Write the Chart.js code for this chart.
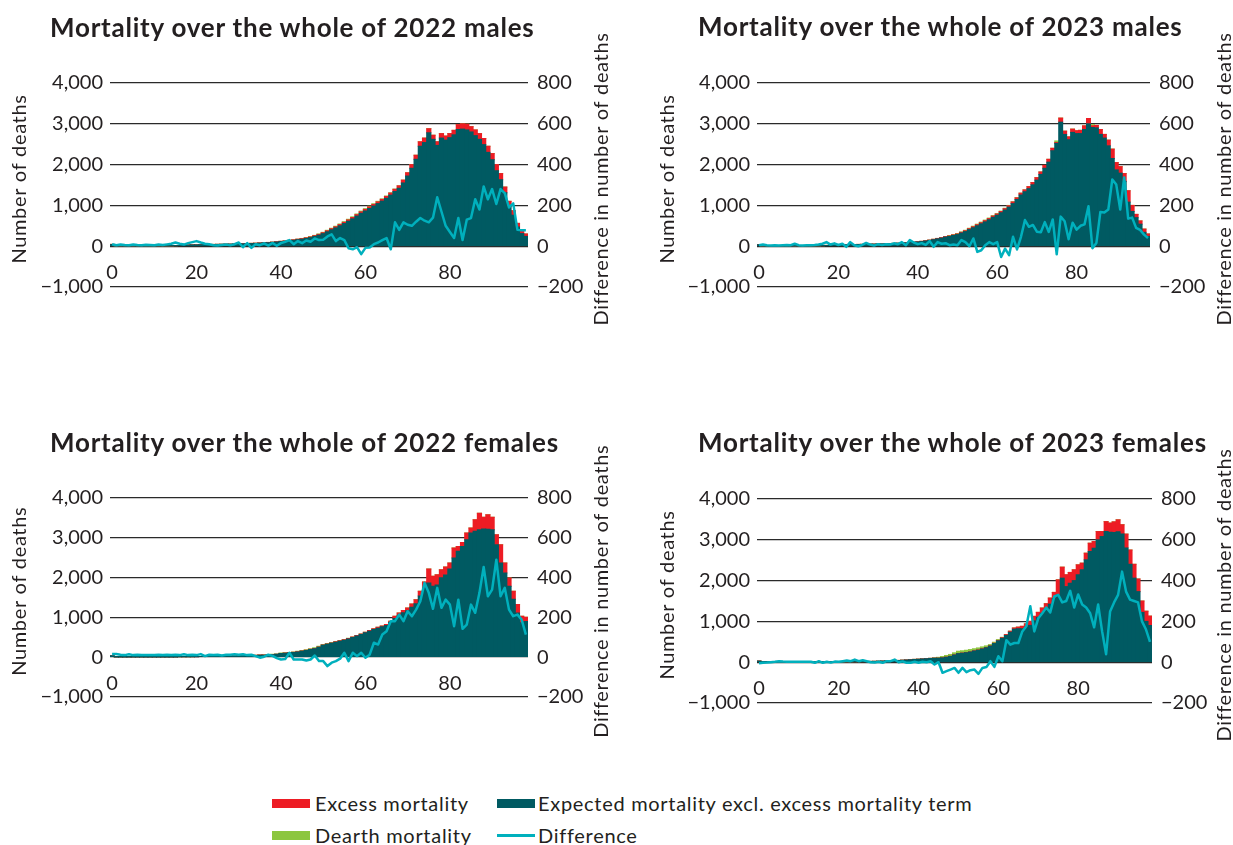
<!DOCTYPE html>
<html>
<head>
<meta charset="utf-8">
<script src="https://cdn.jsdelivr.net/npm/chart.js@4.4.1/dist/chart.umd.min.js"></script>
<style>
  body { margin: 0; background: #fff; width: 1233px; height: 845px; position: relative; overflow: hidden;
         font-family: Lato, sans-serif; color: #231f20; }
  .title { position: absolute; font-weight: 700; font-size: 26px; line-height: 30px; letter-spacing: 0.77px; white-space: nowrap; }
  .panel { position: absolute; }
  .sw { position: absolute; width: 38px; height: 9px; }
  .lt { position: absolute; font-size: 20px; line-height: 24px; letter-spacing: 0.7px; white-space: nowrap; }
</style>
</head>
<body>

<div class="panel" style="left:0;top:20px;width:620px;height:320px"><canvas id="c1"></canvas></div>
<div class="panel" style="left:620px;top:20px;width:613px;height:320px"><canvas id="c2"></canvas></div>
<div class="panel" style="left:0;top:430px;width:620px;height:320px"><canvas id="c3"></canvas></div>
<div class="panel" style="left:620px;top:430px;width:613px;height:320px"><canvas id="c4"></canvas></div>

<div class="title" style="left:50px;top:12px">Mortality over the whole of 2022 males</div>
<div class="title" style="left:698px;top:11px">Mortality over the whole of 2023 males</div>
<div class="title" style="left:50px;top:427px">Mortality over the whole of 2022 females</div>
<div class="title" style="left:698px;top:427px">Mortality over the whole of 2023 females</div>

<div class="sw" style="left:272px;top:799px;background:#ed1c24"></div>
<div class="lt" style="left:315px;top:791px">Excess mortality</div>
<div class="sw" style="left:497px;top:799px;background:#005a62"></div>
<div class="lt" style="left:538px;top:791px">Expected mortality excl. excess mortality term</div>
<div class="sw" style="left:272px;top:831px;background:#8cc63f"></div>
<div class="lt" style="left:315px;top:823px">Dearth mortality</div>
<div class="sw" style="left:497px;top:834px;height:3px;background:#00b0bd"></div>
<div class="lt" style="left:538px;top:823px">Difference</div>

<script>
const AGES = [
  0, 1, 2, 3, 4, 5, 6, 7, 8, 9, 10, 11, 12, 13, 14, 15, 16, 17, 18, 19,
  20, 21, 22, 23, 24, 25, 26, 27, 28, 29, 30, 31, 32, 33, 34, 35, 36, 37, 38, 39,
  40, 41, 42, 43, 44, 45, 46, 47, 48, 49, 50, 51, 52, 53, 54, 55, 56, 57, 58, 59,
  60, 61, 62, 63, 64, 65, 66, 67, 68, 69, 70, 71, 72, 73, 74, 75, 76, 77, 78, 79,
  80, 81, 82, 83, 84, 85, 86, 87, 88, 89, 90, 91, 92, 93, 94, 95, 96, 97, 98
];
const X_TICKS = [0, 20, 40, 60, 80];

// 2022 males
const expected2022m = [
  40, 6, 5, 4, 4, 4, 4, 4, 5, 5, 6, 6, 7, 8, 10, 14, 16, 22, 27, 31,
  33, 35, 37, 39, 42, 44, 46, 48, 49, 52, 55, 58, 62, 66, 69, 75, 81, 86, 94, 102,
  112, 120, 132, 144, 160, 171, 190, 211, 239, 270, 308, 354, 402, 448, 500, 555, 612, 670, 738, 806,
  864, 924, 985, 1044, 1104, 1174, 1252, 1340, 1420, 1550, 1720, 1910, 2130, 2450, 2540, 2780, 2620, 2470, 2650, 2600,
  2660, 2730, 2860, 2870, 2850, 2800, 2710, 2620, 2490, 2300, 2120, 1850, 1630, 1310, 970, 760, 470, 310, 240
];
const excess2022m = [
  5, 0, 0, 0, 0, 0, 0, 0, 0, 0, 0, 0, 0, 0, 0, 0, 2, 2, 3, 3,
  3, 3, 3, 3, 2, 2, 2, 2, 3, 3, 3, 4, 4, 4, 5, 5, 5, 6, 6, 8,
  8, 10, 10, 12, 12, 14, 15, 16, 18, 20, 22, 24, 26, 28, 30, 30, 32, 34, 34, 36,
  38, 40, 40, 42, 44, 46, 50, 55, 60, 70, 80, 90, 100, 110, 110, 100, 100, 90, 110, 100,
  100, 110, 120, 130, 140, 130, 140, 140, 150, 150, 150, 150, 150, 140, 130, 110, 90, 70, 60
];
const dearth2022m = [
  0, 0, 0, 0, 0, 0, 0, 0, 0, 0, 0, 0, 0, 0, 0, 0, 0, 0, 0, 0,
  0, 0, 0, 0, 0, 0, 0, 0, 0, 0, 0, 0, 0, 0, 0, 0, 0, 0, 0, 0,
  0, 0, 0, 0, 0, 5, 5, 8, 8, 10, 10, 12, 12, 14, 15, 15, 16, 16, 18, 18,
  18, 16, 15, 14, 12, 10, 8, 5, 0, 0, 0, 0, 0, 0, 0, 0, 0, 0, 0, 0,
  0, 0, 0, 0, 0, 0, 0, 0, 0, 0, 0, 0, 0, 0, 0, 0, 0, 0, 0
];
const difference2022m = [
  10, 5, 8, 6, 5, 8, 6, 5, 7, 6, 5, 8, 6, 9, 12, 18, 12, 8, 15, 20,
  25, 18, 12, 10, 5, 3, 6, 8, 5, 10, 18, -5, 15, -8, 10, 5, 14, 3, 16, 2,
  15, 22, 30, 10, 25, 15, 28, 22, 38, 30, 32, 48, 58, 25, 40, 30, -10, -15, -5, -39,
  -8, -6, 10, 18, 30, 40, -15, 117, 80, 117, 105, 100, 120, 138, 125, 117, 140, 240, 170, 100,
  70, 40, 138, 30, 130, 138, 230, 180, 293, 230, 280, 207, 280, 260, 190, 210, 80, 78, 78
];

// 2023 males
const expected2023m = [
  36, 5, 4, 4, 3, 3, 3, 3, 4, 4, 4, 5, 5, 6, 8, 10, 13, 18, 23, 28,
  31, 33, 35, 38, 40, 41, 43, 45, 47, 49, 52, 55, 58, 62, 66, 71, 75, 81, 87, 94,
  104, 113, 127, 142, 160, 180, 198, 223, 238, 262, 284, 322, 358, 406, 452, 501, 549, 597, 648, 708,
  758, 820, 885, 957, 1044, 1145, 1255, 1335, 1410, 1505, 1620, 1760, 1910, 2060, 2340, 2520, 3040, 2740, 2610, 2790,
  2760, 2760, 2860, 3000, 2910, 2900, 2740, 2650, 2460, 2150, 1870, 1790, 1590, 1080, 850, 700, 540, 340, 240
];
const excess2023m = [
  4, 0, 0, 0, 0, 0, 0, 0, 0, 0, 0, 0, 0, 0, 0, 0, 1, 2, 2, 2,
  2, 2, 2, 2, 2, 3, 3, 3, 3, 3, 3, 3, 4, 4, 4, 4, 5, 5, 5, 6,
  6, 7, 8, 8, 10, 10, 12, 12, 14, 15, 16, 18, 20, 22, 24, 25, 26, 28, 28, 30,
  30, 30, 35, 35, 40, 40, 45, 45, 50, 55, 60, 60, 70, 70, 60, 20, 100, 80, 70, 80,
  70, 80, 90, 130, 40, 60, 120, 90, 140, 230, 180, 160, 190, 280, 150, 80, 80, 80, 60
];
const dearth2023m = [
  0, 0, 0, 0, 0, 0, 0, 0, 0, 0, 0, 0, 0, 0, 0, 0, 0, 0, 0, 0,
  0, 0, 0, 0, 0, 0, 0, 0, 0, 0, 0, 0, 0, 0, 0, 0, 0, 0, 0, 0,
  0, 0, 0, 0, 0, 0, 0, 0, 8, 8, 10, 10, 12, 12, 14, 14, 15, 15, 14, 12,
  12, 10, 10, 8, 6, 5, 0, 0, 0, 0, 0, 0, 0, 0, 0, 40, 0, 0, 0, 0,
  0, 0, 0, 0, 30, 0, 0, 0, 0, 0, 0, 0, 0, 0, 0, 0, 0, 0, 0
];
const difference2023m = [
  5, 8, 5, 4, 5, 4, 5, 6, 5, 12, 5, 4, 5, 5, 6, 8, 12, 20, 8, 14,
  6, 12, -3, 20, 5, 0, 6, 16, 8, 3, 10, 6, 10, 8, 14, 10, 20, 5, 30, 18,
  10, 15, 6, 25, -3, 20, 12, 15, 5, 8, 5, 30, 20, 0, 38, -28, -20, 5, 20, 10,
  20, -53, -12, -44, 46, -16, 46, 128, 95, 104, 71, 68, 118, 70, 131, -40, 145, 122, 34, 115,
  81, 100, 107, 196, -10, 16, 168, 165, 180, 327, 302, 180, 337, 135, 140, 90, 80, 57, 40
];

// 2022 females
const expected2022f = [
  33, 4, 3, 3, 2, 2, 2, 2, 2, 2, 2, 3, 3, 3, 4, 5, 6, 7, 8, 9,
  11, 12, 13, 14, 15, 17, 19, 20, 23, 25, 28, 31, 34, 37, 42, 47, 48, 53, 60, 70,
  89, 97, 105, 116, 129, 148, 165, 190, 212, 250, 296, 322, 347, 372, 399, 425, 454, 493, 526, 566,
  610, 649, 690, 725, 758, 791, 870, 965, 1048, 1110, 1163, 1250, 1340, 1530, 1730, 1860, 1775, 1807, 1990, 2058,
  2208, 2483, 2650, 2775, 2942, 3108, 3152, 3192, 3208, 3207, 3192, 2817, 2357, 2108, 1775, 1450, 1108, 858, 892
];
const excess2022f = [
  2, 0, 0, 0, 0, 0, 0, 0, 0, 0, 0, 0, 0, 0, 0, 0, 0, 1, 1, 1,
  1, 1, 1, 1, 1, 1, 1, 2, 2, 2, 2, 2, 2, 3, 3, 3, 3, 4, 4, 4,
  3, 3, 3, 4, 4, 5, 5, 5, 6, 6, 8, 8, 8, 10, 10, 10, 12, 12, 14, 14,
  15, 16, 18, 20, 22, 25, 30, 60, 60, 60, 70, 80, 100, 120, 150, 350, 250, 260, 200, 200,
  150, 250, 125, 100, 166, 125, 290, 416, 300, 360, 316, 250, 460, 250, 208, 200, 209, 167, 108
];
const dearth2022f = [
  0, 0, 0, 0, 0, 0, 0, 0, 0, 0, 0, 0, 0, 0, 0, 0, 0, 0, 0, 0,
  0, 0, 0, 0, 0, 0, 0, 0, 0, 0, 0, 0, 0, 0, 0, 0, 5, 5, 6, 6,
  8, 8, 10, 10, 12, 12, 15, 15, 15, 14, 12, 10, 10, 8, 6, 5, 4, 0, 0, 0,
  0, 0, 0, 0, 0, 0, 0, 0, 0, 0, 0, 0, 0, 0, 0, 0, 0, 0, 0, 0,
  0, 0, 0, 0, 0, 0, 0, 0, 0, 0, 0, 0, 0, 0, 0, 0, 0, 0, 0
];
const difference2022f = [
  15, 15, 12, 10, 14, 10, 12, 10, 10, 10, 10, 12, 10, 12, 10, 12, 10, 14, 10, 12,
  10, 15, 5, 12, 10, 12, 8, 12, 12, 14, 12, 14, 10, 12, 5, -3, 2, 12, 6, -5,
  -12, -10, 22, -12, -12, -12, -17, -12, 8, -20, -20, -45, -28, -20, -8, 22, -20, 22, 5, 22,
  -3, 12, 72, 63, 113, 130, 180, 180, 213, 180, 230, 205, 238, 280, 372, 322, 242, 347, 247, 288,
  263, 155, 288, 142, 163, 263, 222, 322, 452, 305, 338, 488, 305, 347, 238, 205, 213, 188, 113
];

// 2023 females
const expected2023f = [
  28, 3, 2, 2, 2, 2, 2, 2, 2, 2, 2, 2, 3, 3, 3, 4, 5, 6, 7, 8,
  9, 10, 10, 11, 12, 13, 15, 17, 19, 21, 24, 27, 29, 33, 37, 42, 48, 53, 60, 67,
  72, 79, 85, 92, 97, 97, 106, 121, 141, 176, 210, 220, 233, 250, 275, 294, 324, 354, 394, 457,
  524, 585, 656, 735, 809, 820, 820, 860, 902, 1014, 1102, 1198, 1294, 1422, 1561, 1650, 2060, 1853, 1935, 2000,
  2143, 2265, 2509, 2713, 2794, 3000, 3080, 3202, 3185, 3180, 3200, 3140, 2800, 2400, 2060, 1730, 1220, 1000, 900
];
const excess2023f = [
  2, 0, 0, 0, 0, 0, 0, 0, 0, 0, 0, 0, 0, 0, 0, 0, 0, 0, 0, 0,
  0, 0, 1, 1, 1, 1, 1, 1, 1, 1, 1, 1, 2, 2, 2, 2, 2, 3, 3, 3,
  3, 3, 3, 3, 3, 3, 4, 4, 4, 4, 4, 5, 5, 5, 5, 6, 6, 6, 8, 8,
  10, 15, 20, 25, 30, 40, 60, 80, 100, 110, 120, 130, 140, 150, 150, 370, 270, 290, 265, 265,
  244, 163, 163, 204, 163, 202, 122, 244, 225, 260, 290, 230, 340, 350, 340, 310, 280, 250, 230
];
const dearth2023f = [
  0, 0, 0, 0, 0, 0, 0, 0, 0, 0, 0, 0, 0, 0, 0, 0, 0, 0, 0, 0,
  0, 0, 0, 0, 0, 0, 0, 0, 0, 0, 0, 0, 0, 0, 0, 0, 0, 0, 0, 0,
  0, 0, 0, 0, 10, 20, 30, 40, 45, 50, 55, 55, 55, 55, 50, 50, 45, 40, 30, 25,
  20, 10, 0, 0, 0, 0, 0, 0, 0, 0, 0, 0, 0, 0, 0, 0, 0, 0, 0, 0,
  0, 0, 0, 0, 0, 0, 0, 0, 0, 0, 0, 0, 0, 0, 0, 0, 0, 0, 0
];
const difference2023f = [
  -5, -3, -2, 0, 2, 5, 3, 2, 2, 2, 2, 2, 2, 2, -3, 5, -3, 2, -2, 3,
  2, 5, 8, 5, 13, 5, 10, 5, 0, -2, 2, -3, 5, 5, 13, 0, 4, -3, -3, 2,
  -3, 2, 0, 5, -11, 0, -52, -44, -36, -28, -52, -28, -49, -39, -36, -57, -28, -24, 5, -23,
  29, 5, 108, 86, 94, 94, 151, 176, 274, 151, 215, 240, 268, 244, 322, 330, 293, 300, 350, 268,
  332, 283, 268, 240, 171, 283, 151, 39, 249, 293, 330, 444, 346, 307, 300, 293, 200, 160, 100
];

const TEAL = '#005a62';
const RED = '#ed1c24';
const GREEN = '#8cc63f';
const CYAN = '#00b0bd';
const TXT = '#231f20';
const GRID = '#2a2a2a';

Chart.defaults.font.family = 'Lato, sans-serif';
Chart.defaults.color = TXT;

// axis titles: both read bottom-to-top, like the original
const sideTitles = {
    id: 'sideTitles',
    afterDraw(chart, args, opts) {
        const { ctx, chartArea } = chart;
        const cy = (chartArea.top + chartArea.bottom) / 2 + opts.dy;
        const items = [
            [chartArea.left - opts.leftGap, 'Number of deaths'],
            [chartArea.right + opts.rightGap, 'Difference in number of deaths']
        ];
        ctx.save();
        ctx.font = '20px Lato, sans-serif';
        ctx.letterSpacing = '0.65px';
        ctx.fillStyle = TXT;
        ctx.textAlign = 'center';
        ctx.textBaseline = 'middle';
        items.forEach(([x, text]) => {
            ctx.save();
            ctx.translate(x, cy);
            ctx.rotate(-Math.PI / 2);
            ctx.fillText(text, 0, 0);
            ctx.restore();
        });
        ctx.restore();
    }
};

function fmt(v) {
    const s = Math.abs(v).toLocaleString('en-US');
    return v < 0 ? '\u2212' + s : s;
}

function buildChart(id, expected, excess, dearth, difference, box) {
    const barStyle = { yAxisID: 'y', order: 1, borderWidth: 0, barPercentage: 1, categoryPercentage: 1, inflateAmount: 0.5 };
    return new Chart(document.getElementById(id), {
        type: 'bar',
        data: {
            labels: AGES,
            datasets: [
                { type: 'line', label: 'Difference', data: difference, yAxisID: 'y1', order: 0,
                  borderColor: CYAN, borderWidth: 2.5, pointRadius: 0, tension: 0, borderJoinStyle: 'round' },
                { ...barStyle, label: 'Expected mortality excl. excess mortality term', data: expected, backgroundColor: TEAL },
                { ...barStyle, label: 'Excess mortality', data: excess, backgroundColor: RED },
                { ...barStyle, label: 'Dearth mortality', data: dearth, backgroundColor: GREEN }
            ]
        },
        options: {
            responsive: true,
            maintainAspectRatio: false,
            animation: false,
            devicePixelRatio: 1,
            layout: { padding: { top: box.top, bottom: box.bottom, left: 0, right: 0 } },
            plugins: {
                legend: { display: false },
                tooltip: { enabled: false },
                sideTitles: { leftGap: box.leftGap, rightGap: box.rightGap, dy: -6 }
            },
            scales: {
                x: {
                    stacked: true,
                    position: { y: 0 },
                    grid: { display: false },
                    border: { display: false },
                    ticks: {
                        autoSkip: false, maxRotation: 0, minRotation: 0, padding: 6,
                        font: { size: 20 }, color: TXT,
                        callback: (v, i) => X_TICKS.includes(AGES[i]) ? String(AGES[i]) : ''
                    }
                },
                y: {
                    stacked: true,
                    position: 'left',
                    min: -1000, max: 4000,
                    grid: { color: GRID, lineWidth: 1.3, drawTicks: false },
                    border: { display: false },
                    ticks: { stepSize: 1000, padding: 7, font: { size: 20 }, color: TXT, callback: fmt },
                    afterFit: s => { s.width = box.leftW; }
                },
                y1: {
                    position: 'right',
                    min: -200, max: 800,
                    grid: { display: false, drawTicks: false },
                    border: { display: false },
                    ticks: { stepSize: 200, padding: 9, font: { size: 20 }, color: TXT, callback: fmt },
                    afterFit: s => { s.width = box.rightW; }
                }
            }
        },
        plugins: [sideTitles]
    });
}

buildChart('c1', expected2022m, excess2022m, dearth2022m, difference2022m,
    { top: 63, bottom: 53, leftW: 110, rightW: 92, leftGap: 90, rightGap: 74 });
buildChart('c2', expected2023m, excess2023m, dearth2023m, difference2023m,
    { top: 63, bottom: 53, leftW: 137, rightW: 83, leftGap: 89, rightGap: 75 });
buildChart('c3', expected2022f, excess2022f, dearth2022f, difference2022f,
    { top: 67.5, bottom: 53, leftW: 110, rightW: 92, leftGap: 90, rightGap: 74 });
buildChart('c4', expected2023f, excess2023f, dearth2023f, difference2023f,
    { top: 69, bottom: 47, leftW: 137, rightW: 81, leftGap: 89, rightGap: 73 });
</script>
</body>
</html>
